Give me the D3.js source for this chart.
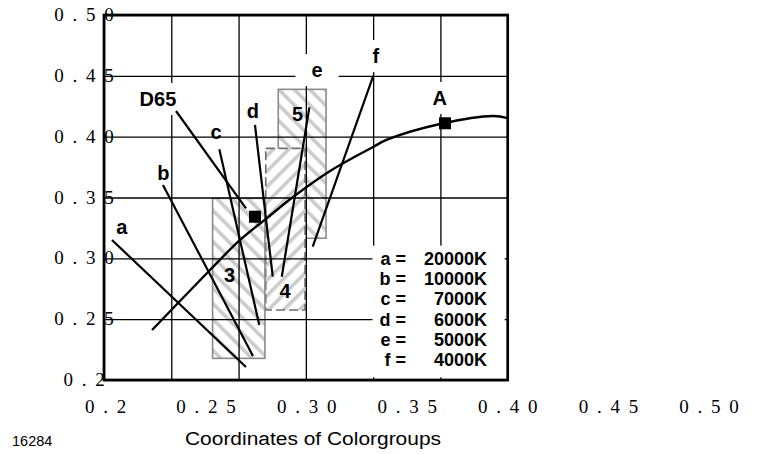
<!DOCTYPE html>
<html>
<head>
<meta charset="utf-8">
<script src="https://cdnjs.cloudflare.com/ajax/libs/d3/7.8.5/d3.min.js"></script>
<style>
  body { margin: 0; background: #fff; }
  svg { display: block; }
</style>
</head>
<body>
<svg id="chart"></svg>
<script>
(function() {
  'use strict';

  // Axis ticks and their labels
  let xTicks = [0.2, 0.25, 0.3, 0.35, 0.4, 0.45, 0.5];
  let xTickLabels = ['0 . 2', '0 . 2 5', '0 . 3 0', '0 . 3 5', '0 . 4 0', '0 . 4 5', '0 . 5 0'];
  let yTicks = [0.5, 0.45, 0.4, 0.35, 0.3, 0.25, 0.2];
  let yTickLabels = ['0 . 5 0', '0 . 4 5', '0 . 4 0', '0 . 3 5', '0 . 3 0', '0 . 2 5', '0 . 2'];

  // Black body curve (x, y chromaticity)
  let locusX = [0.2357, 0.2788, 0.3011, 0.3211, 0.3405, 0.3680, 0.3999, 0.4103, 0.4497, 0.4891, 0.5];
  let locusY = [0.2411, 0.2904, 0.3151, 0.3331, 0.3504, 0.3718, 0.3915, 0.3975, 0.4104, 0.4170, 0.4153];

  // White points
  let pointNames = ['D65', 'A'];
  let pointX = [0.3122, 0.4534];
  let pointY = [0.3342, 0.4110];

  // Colour groups (drawn back to front)
  let groupNames = ['5', '4', '3'];
  let groupX0 = [0.3295, 0.3202, 0.2807];
  let groupX1 = [0.3650, 0.3494, 0.3196];
  let groupY0 = [0.3165, 0.2575, 0.2178];
  let groupY1 = [0.4389, 0.3904, 0.3493];
  let groupLabelX = [0.3438, 0.3345, 0.2933];
  let groupLabelY = [0.4129, 0.2674, 0.2805];

  // Leader lines from the letters to the locus
  let leaderNames = ['a', 'b', 'c', 'D65', 'd', 'e', 'f'];
  let leaderX1 = [0.2059, 0.2438, 0.2857, 0.2535, 0.3122, 0.3526, 0.4001];
  let leaderY1 = [0.3151, 0.3603, 0.3896, 0.4211, 0.4096, 0.4241, 0.4499];
  let leaderX2 = [0.3055, 0.3107, 0.3154, 0.3055, 0.3254, 0.3321, 0.3551];
  let leaderY2 = [0.2107, 0.2197, 0.2452, 0.3411, 0.2849, 0.2849, 0.3096];

  // Letter labels
  let labelNames = ['a', 'b', 'c', 'd', 'e', 'f', 'A', 'D65'];
  let labelX = [0.2132, 0.2441, 0.2832, 0.3107, 0.3583, 0.4021, 0.4495, 0.2401];
  let labelY = [0.3200, 0.3644, 0.3981, 0.4153, 0.4490, 0.4605, 0.4260, 0.4252];
  let labelBoxed = ['e', 'f', 'A', 'D65'];

  // Legend
  let legendKeys = ['a =', 'b =', 'c =', 'd =', 'e =', 'f ='];
  let legendTemps = ['20000K', '10000K', '7000K', '6000K', '5000K', '4000K'];

  let width = 758;
  let height = 454;
  let sans = 'Liberation Sans, Arial, sans-serif';
  let serif = 'Liberation Serif, Times New Roman, serif';

  let svg = d3.select('#chart')
  .attr('width', width)
  .attr('height', height);

  let x = d3.scaleLinear().domain([0.2, 0.5]).range([104, 507.7]);
  let y = d3.scaleLinear().domain([0.2, 0.5]).range([380, 15]);
  // the printed x labels are spread wider than the grid
  let xLabel = d3.scaleLinear().domain([0.2, 0.5]).range([106.5, 710]);

  // Hatch patterns
  let defs = svg.append('defs');
  function hatch(id, angle) {
    let p = defs.append('pattern')
    .attr('id', id)
    .attr('patternUnits', 'userSpaceOnUse')
    .attr('width', 11)
    .attr('height', 11)
    .attr('patternTransform', 'rotate(' + angle + ')');
    p.append('rect').attr('width', 11).attr('height', 11).attr('fill', '#fff');
    p.append('rect').attr('width', 3.6).attr('height', 11).attr('fill', '#cbcbcb');
  }
  hatch('hatch-back', -45);
  hatch('hatch-fwd', 45);

  let groupStyle = {
    '5': { fill: 'url(#hatch-back)', stroke: '#8a8a8a', dash: null },
    '4': { fill: 'url(#hatch-fwd)', stroke: '#6e6e6e', dash: '9,4' },
    '3': { fill: 'url(#hatch-back)', stroke: '#8a8a8a', dash: null }
  };

  svg.append('g')
  .selectAll('rect')
  .data(groupNames)
  .enter()
  .append('rect')
  .attr('x', (d, i) => x(groupX0[i]))
  .attr('y', (d, i) => y(groupY1[i]))
  .attr('width', (d, i) => x(groupX1[i]) - x(groupX0[i]))
  .attr('height', (d, i) => y(groupY0[i]) - y(groupY1[i]))
  .attr('fill', d => groupStyle[d].fill)
  .attr('stroke', d => groupStyle[d].stroke)
  .attr('stroke-width', 1.6)
  .attr('stroke-dasharray', d => groupStyle[d].dash);

  // Grid
  let plotW = x.range()[1] - x.range()[0];
  let plotH = y.range()[0] - y.range()[1];

  let gx = svg.append('g')
  .attr('transform', 'translate(0,' + y.range()[0] + ')')
  .call(d3.axisBottom(x).tickValues(xTicks).tickSize(-plotH).tickFormat(''));
  let gy = svg.append('g')
  .attr('transform', 'translate(' + x.range()[0] + ',0)')
  .call(d3.axisLeft(y).tickValues(yTicks).tickSize(-plotW).tickFormat(''));
  [gx, gy].forEach(g => {
    g.select('.domain').remove();
    g.selectAll('line').attr('stroke', '#000').attr('stroke-width', 1.3);
  });

  // Legend box hides the grid
  svg.append('rect')
  .attr('x', x(0.3995))
  .attr('y', y(0.3105))
  .attr('width', x(0.4977) - x(0.3995))
  .attr('height', y(0.2022) - y(0.3105))
  .attr('fill', '#fff');

  // White boxes behind some letters, filled in once the letters exist
  let labelBg = svg.append('g');

  // Locus curve
  let line = d3.line()
  .x(d => x(d[0]))
  .y(d => y(d[1]))
  .curve(d3.curveCatmullRom);

  let lines = svg.append('g');
  lines.append('path')
  .datum(locusX.map((v, i) => [v, locusY[i]]))
  .attr('d', line)
  .attr('fill', 'none')
  .attr('stroke', '#000')
  .attr('stroke-width', 2.4);

  lines.selectAll('line')
  .data(leaderNames)
  .enter()
  .append('line')
  .attr('x1', (d, i) => x(leaderX1[i]))
  .attr('y1', (d, i) => y(leaderY1[i]))
  .attr('x2', (d, i) => x(leaderX2[i]))
  .attr('y2', (d, i) => y(leaderY2[i]))
  .attr('stroke', '#000')
  .attr('stroke-width', 2.2);

  // White point markers
  lines.selectAll('rect')
  .data(pointNames)
  .enter()
  .append('rect')
  .attr('x', (d, i) => x(pointX[i]) - 6)
  .attr('y', (d, i) => y(pointY[i]) - 6)
  .attr('width', 12)
  .attr('height', 12)
  .attr('fill', '#000');

  // Group numbers
  svg.append('g')
  .selectAll('text')
  .data(groupNames)
  .enter()
  .append('text')
  .attr('x', (d, i) => x(groupLabelX[i]))
  .attr('y', (d, i) => y(groupLabelY[i]))
  .attr('text-anchor', 'middle')
  .style('font-family', sans)
  .style('font-weight', 'bold')
  .style('font-size', '20px')
  .text(d => d);

  // Letters
  let labels = svg.append('g')
  .selectAll('text')
  .data(labelNames)
  .enter()
  .append('text')
  .attr('x', (d, i) => x(labelX[i]))
  .attr('y', (d, i) => y(labelY[i]))
  .attr('text-anchor', 'middle')
  .style('font-family', sans)
  .style('font-weight', 'bold')
  .style('font-size', '20px')
  .text(d => d);

  labels.filter(d => labelBoxed.indexOf(d) >= 0).each(function() {
    let b = this.getBBox();
    labelBg.append('rect')
    .attr('x', b.x - 16)
    .attr('y', b.y - 5)
    .attr('width', b.width + 32)
    .attr('height', b.height + 10)
    .attr('fill', '#fff');
  });

  // Legend text
  let legend = svg.append('g')
  .style('font-family', sans)
  .style('font-weight', 'bold')
  .style('font-size', '18px');

  legend.selectAll('.key')
  .data(legendKeys)
  .enter()
  .append('text')
  .attr('class', 'key')
  .attr('x', 406)
  .attr('y', (d, i) => 265 + i * 20.2)
  .attr('text-anchor', 'end')
  .text(d => d);

  legend.selectAll('.temp')
  .data(legendTemps)
  .enter()
  .append('text')
  .attr('class', 'temp')
  .attr('x', 487)
  .attr('y', (d, i) => 265 + i * 20.2)
  .attr('text-anchor', 'end')
  .text(d => d);

  // Frame
  svg.append('rect')
  .attr('x', x.range()[0])
  .attr('y', y.range()[1])
  .attr('width', plotW)
  .attr('height', plotH)
  .attr('fill', 'none')
  .attr('stroke', '#000')
  .attr('stroke-width', 2.7);

  // Tick labels
  svg.append('g')
  .selectAll('text')
  .data(yTicks)
  .enter()
  .append('text')
  .attr('x', 85)
  .attr('y', d => y(d) + 6)
  .attr('text-anchor', 'middle')
  .style('font-family', serif)
  .style('font-size', '19px')
  .style('letter-spacing', '2px')
  .text((d, i) => yTickLabels[i]);

  svg.append('g')
  .selectAll('text')
  .data(xTicks)
  .enter()
  .append('text')
  .attr('x', d => xLabel(d))
  .attr('y', 413)
  .attr('text-anchor', 'middle')
  .style('font-family', serif)
  .style('font-size', '19px')
  .style('letter-spacing', '2px')
  .text((d, i) => xTickLabels[i]);

  // Caption and figure number
  svg.append('text')
  .attr('x', 185)
  .attr('y', 445)
  .attr('textLength', 256)
  .attr('lengthAdjust', 'spacingAndGlyphs')
  .style('font-family', sans)
  .style('font-size', '18px')
  .text('Coordinates of Colorgroups');

  svg.append('text')
  .attr('x', 12)
  .attr('y', 446)
  .style('font-family', sans)
  .style('font-size', '14.5px')
  .text('16284');
})();
</script>
</body>
</html>
